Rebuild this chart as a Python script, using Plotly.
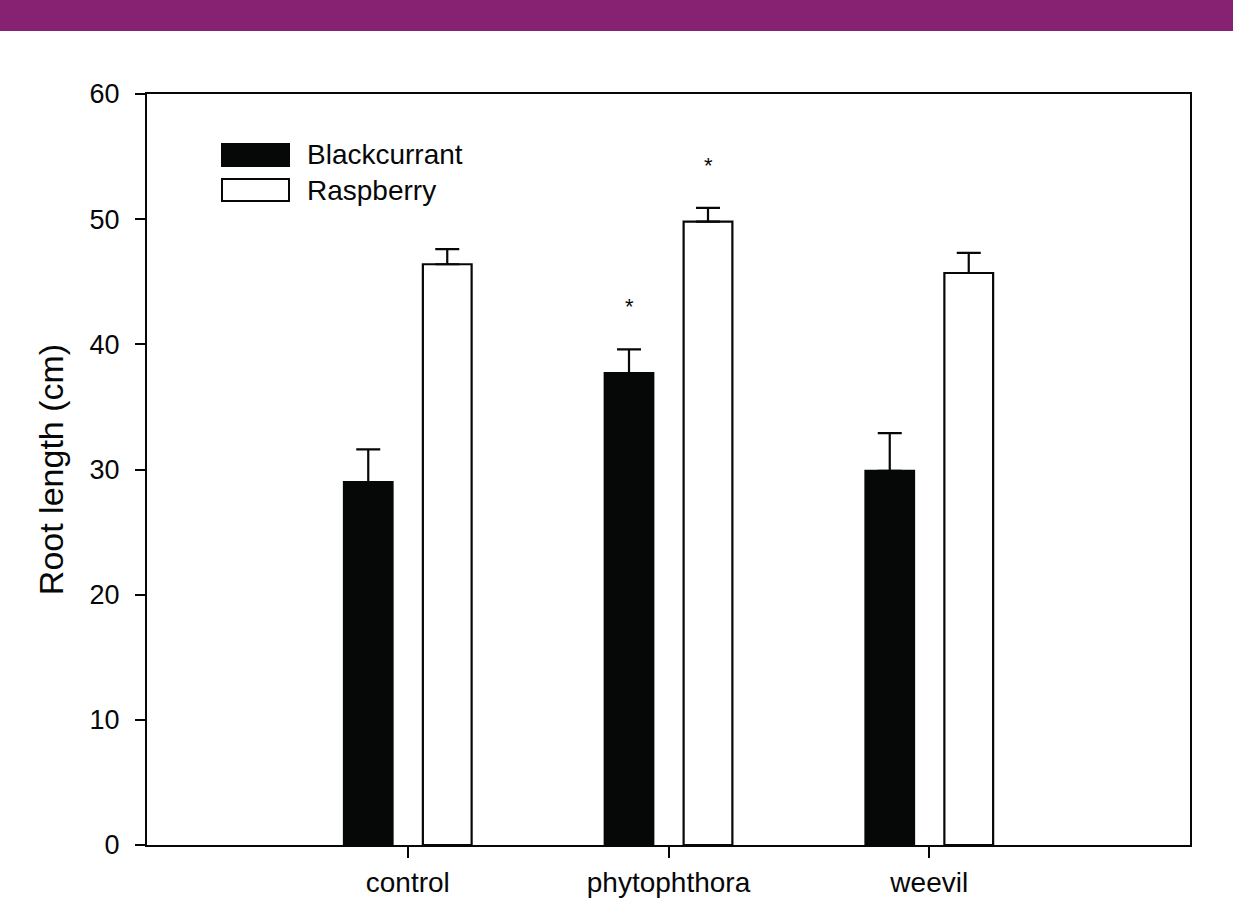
import plotly.graph_objects as go

categories = ["control", "phytophthora", "weevil"]
blackcurrant = [29.0, 37.7, 29.9]
blackcurrant_se = [2.6, 1.9, 3.0]
raspberry = [46.4, 49.8, 45.7]
raspberry_se = [1.2, 1.1, 1.6]
# significance markers: (category index, series, label)
stars = [(1, "Blackcurrant", "*"), (1, "Raspberry", "*")]

W, H = 1233, 919
ML, MR, MT, MB = 147, 43, 94, 74
BAR_W = 0.187
OFF_B = -0.245
OFF_R = 0.058
INK = "#060808"
FONT = "Liberation Sans, Arial, sans-serif"

fig = go.Figure()
fig.add_trace(go.Bar(
    name="Blackcurrant", x=categories, y=blackcurrant,
    width=BAR_W, offset=OFF_B,
    marker=dict(color=INK, line=dict(color=INK, width=2)),
    error_y=dict(type="data", array=blackcurrant_se, arrayminus=[0]*3, symmetric=False,
                 color=INK, thickness=2.2, width=12),
    showlegend=False,
))
fig.add_trace(go.Bar(
    name="Raspberry", x=categories, y=raspberry,
    width=BAR_W, offset=OFF_R,
    marker=dict(color="white", line=dict(color=INK, width=2.2)),
    error_y=dict(type="data", array=raspberry_se, arrayminus=[0]*3, symmetric=False,
                 color=INK, thickness=2.2, width=12),
    showlegend=False,
))

series_vals = {"Blackcurrant": (blackcurrant, blackcurrant_se, OFF_B),
               "Raspberry": (raspberry, raspberry_se, OFF_R)}
for ci, s, lab in stars:
    v, e, off = series_vals[s]
    fig.add_annotation(x=ci + off + BAR_W / 2, y=v[ci] + e[ci] + 3.4, xref="x", yref="y",
                       text=lab, showarrow=False, font=dict(size=22, color=INK, family=FONT),
                       yanchor="middle")

pw = W - ML - MR
ph = H - MT - MB
# purple header band
fig.add_shape(type="rect", xref="paper", yref="paper",
              x0=-ML / pw, x1=1 + MR / pw, y0=1 + (MT - 31) / ph, y1=1 + MT / ph,
              fillcolor="#872273", line=dict(width=0), layer="above")

# custom legend
leg = [("Blackcurrant", INK), ("Raspberry", "white")]
for i, (name, col) in enumerate(leg):
    yc = 155 + i * 35
    fig.add_shape(type="rect", xref="paper", yref="paper",
                  x0=(222 - ML) / pw, x1=(289 - ML) / pw,
                  y0=1 - (yc + 11 - MT) / ph, y1=1 - (yc - 11 - MT) / ph,
                  fillcolor=col, line=dict(color=INK, width=2))
    fig.add_annotation(xref="paper", yref="paper", x=(305 - ML) / pw, y=1 - (yc - MT) / ph,
                       text=name, showarrow=False, xanchor="left", yanchor="middle",
                       font=dict(size=28, color=INK, family=FONT))

fig.update_layout(
    width=W, height=H,
    margin=dict(l=ML, r=MR, t=MT, b=MB),
    paper_bgcolor="white", plot_bgcolor="white",
    barmode="overlay",
    font=dict(family=FONT, color=INK),
    xaxis=dict(type="category", range=[-1, 3], showline=True, linecolor=INK, linewidth=2,
               mirror=True, ticks="outside", ticklen=11, tickwidth=2, tickcolor=INK,
               tickfont=dict(size=28, color=INK), showgrid=False, zeroline=False),
    yaxis=dict(range=[0, 60], tickvals=[0, 10, 20, 30, 40, 50, 60], showline=True,
               linecolor=INK, linewidth=2, mirror=True, ticks="outside", ticklen=10,
               tickwidth=2, tickcolor=INK, tickfont=dict(size=27, color=INK),
               ticklabelstandoff=10,
               showgrid=False, zeroline=False,
               title=dict(text="Root length (cm)", font=dict(size=34, color=INK), standoff=16)),
)

fig.write_html("out.html", config={"displayModeBar": False},
               post_script="document.body.style.margin='0';document.body.style.padding='0';")
